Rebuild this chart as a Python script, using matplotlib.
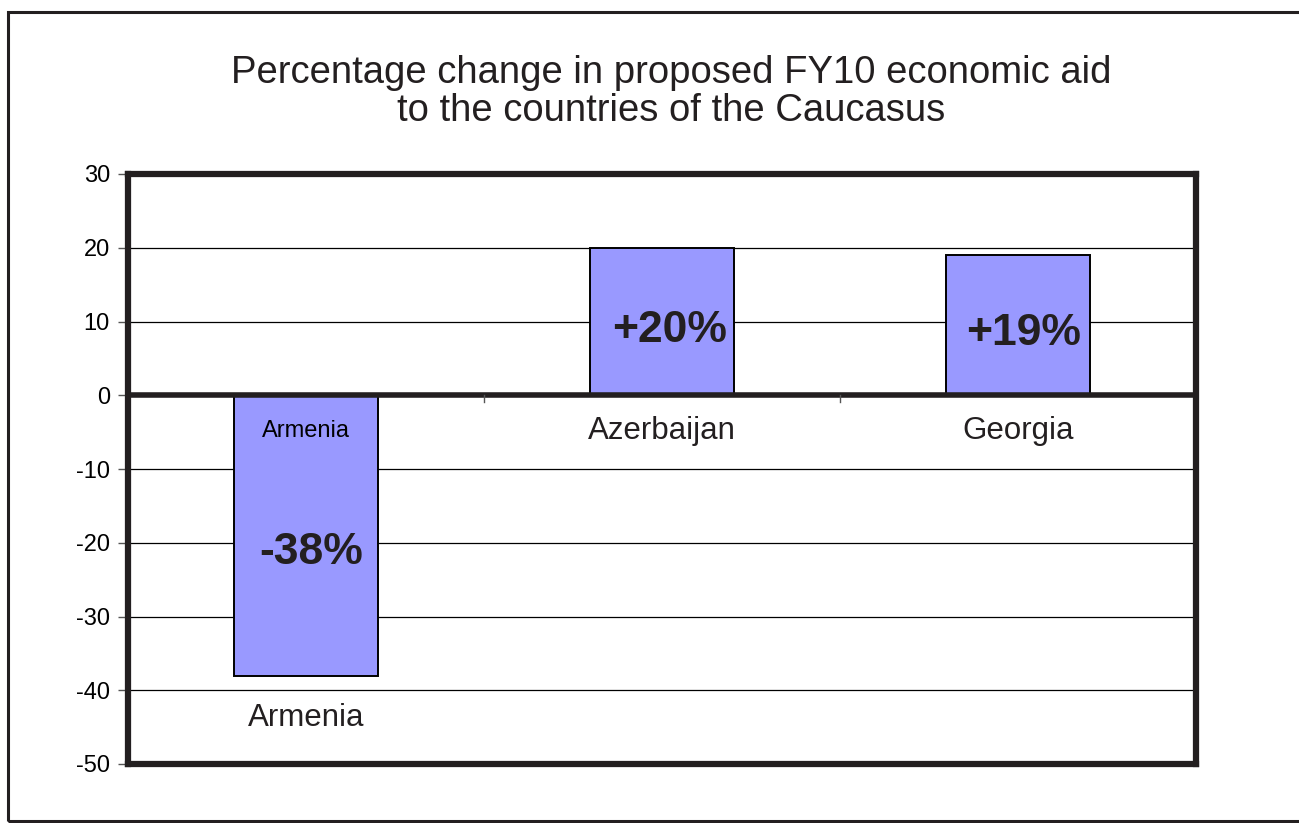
import matplotlib.pyplot as plt
from matplotlib.patches import Rectangle

countries = ["Armenia", "Azerbaijan", "Georgia"]
change = [-38, 20, 19]
pct_labels = ["-38%", "+20%", "+19%"]
yticks = [-50, -40, -30, -20, -10, 0, 10, 20, 30]

plt.rcParams['font.family'] = ['Liberation Sans', 'DejaVu Sans']
dark = '#231f20'

fig = plt.figure(figsize=(12.99, 8.23), dpi=100)
ax = fig.add_axes([128 / 1299, 1 - 764 / 823, (1196 - 128) / 1299, (764 - 174) / 823])

# outer frame of the chart
fig.patches.append(Rectangle((8 / 1299, 2 / 823), 1.1, 809 / 823, transform=fig.transFigure,
                             fill=False, edgecolor=dark, linewidth=2.2, zorder=0))

x = range(len(countries))
ax.bar(x, change, width=0.404, color='#9999ff', edgecolor='black', linewidth=1.4, zorder=2)

ax.set_xlim(-0.5, 2.5)
ax.set_ylim(-50, 30)
ax.set_yticks(yticks)
ax.set_yticklabels([str(v) for v in yticks], fontsize=17)
ax.tick_params(axis='y', length=7, width=1, color='#555555', pad=6)
ax.set_xticks([])

for v in yticks:
    if v not in (0, -50, 30):
        ax.axhline(v, color='black', linewidth=0.9, zorder=1)
ax.axhline(0, color=dark, linewidth=4, zorder=3)
for xb in (0.5, 1.5):
    ax.plot([xb, xb], [0, -0.9], color='#555555', linewidth=1, zorder=3, clip_on=False)

for s in ax.spines.values():
    s.set_linewidth(4.5)
    s.set_color(dark)

# category names
ax.text(0, -4.8, countries[0], ha='center', va='center', fontsize=17)
ax.text(0, -43.8, countries[0], ha='center', va='center', fontsize=22.5, color=dark)
for i in (1, 2):
    ax.text(i, -4.8, countries[i], ha='center', va='center', fontsize=22.5, color=dark)

# percentage labels
pct_y = [-21.3, 8.8, 8.4]
pct_dx = [0.015, 0.02, 0.017]
for i, lab in enumerate(pct_labels):
    ax.text(i + pct_dx[i], pct_y[i], lab, ha='center', va='center', fontsize=32,
            fontweight='bold', color=dark)

fig.text(671 / 1299, 1 - 92 / 823, "Percentage change in proposed FY10 economic aid\nto the countries of the Caucasus",
         ha='center', va='center', fontsize=27.5, linespacing=1.1, color=dark)

fig.savefig('out.png', dpi=100)
